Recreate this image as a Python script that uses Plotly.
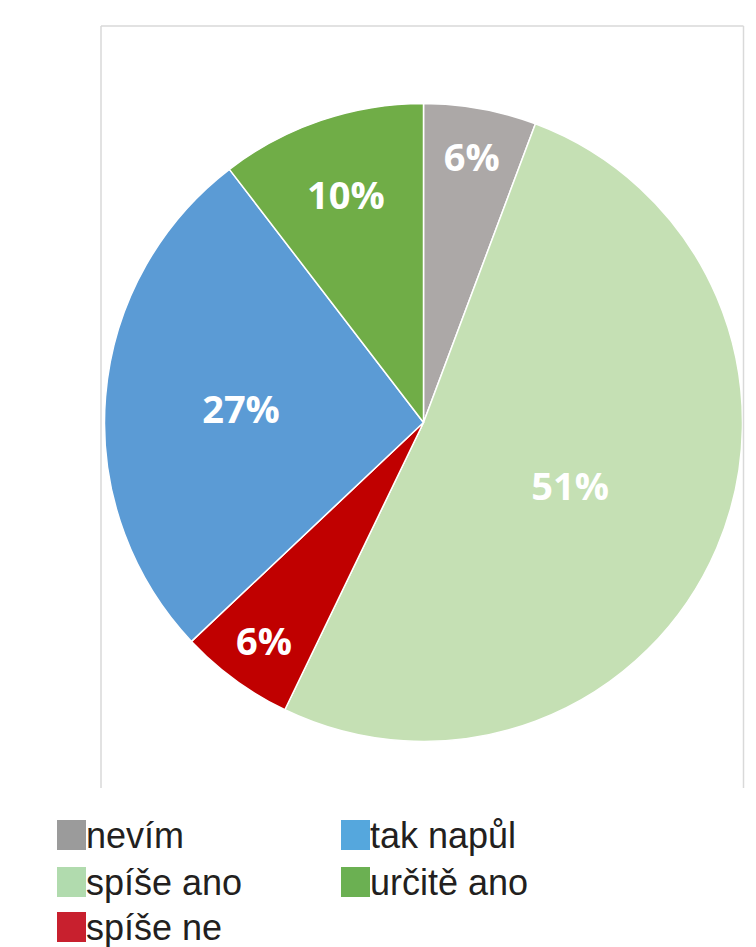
import plotly.graph_objects as go

W, H = 756, 947

# Data
categories = ["nevím", "spíše ano", "spíše ne", "tak napůl", "určitě ano"]
values = [5.7, 51.4, 5.8, 26.6, 10.4]
slice_colors = ["#aca8a7", "#c5e0b4", "#c00000", "#5b9bd5", "#70ad47"]

# Legend (row-major order as in the reference)
legend_labels = ["nevím", "tak napůl", "spíše ano", "určitě ano", "spíše ne"]
legend_colors = ["#9b9b9b", "#55a7dd", "#b1dbae", "#6bb052", "#c8202e"]


def px(x):
    return x / W


def py(y):
    return 1 - y / H


cx, cy, R = 423.5, 422.5, 319

fig = go.Figure()
fig.add_trace(go.Pie(
    labels=categories,
    values=values,
    sort=False,
    direction="clockwise",
    rotation=0,
    marker=dict(colors=slice_colors, line=dict(color="white", width=1.5)),
    texttemplate="%{percent:.0%}",
    textposition="inside",
    insidetextorientation="horizontal",
    textfont=dict(family="Open Sans", size=38, color="white", weight="bold"),
    hoverinfo="label+percent",
    showlegend=False,
    domain=dict(x=[px(cx - R), px(cx + R)], y=[py(cy + R), py(cy - R)]),
))

shapes = []
# plot-area border (top, left, right)
bc = "#d9d9d9"
shapes.append(dict(type="line", xref="paper", yref="paper",
                   x0=px(101), x1=px(743.5), y0=py(26), y1=py(26),
                   line=dict(color=bc, width=1.5)))
shapes.append(dict(type="line", xref="paper", yref="paper",
                   x0=px(101), x1=px(101), y0=py(26), y1=py(788),
                   line=dict(color=bc, width=1.5)))
shapes.append(dict(type="line", xref="paper", yref="paper",
                   x0=px(743.5), x1=px(743.5), y0=py(26), y1=py(788),
                   line=dict(color=bc, width=1.5)))

annotations = []
col_x = [57, 341]
row_y = [835, 882, 927]
sq = 29
for i, (lab, col) in enumerate(zip(legend_labels, legend_colors)):
    r, c = divmod(i, 2)
    x0 = col_x[c]
    yc = row_y[r]
    shapes.append(dict(type="rect", xref="paper", yref="paper",
                       x0=px(x0), x1=px(x0 + sq),
                       y0=py(yc + sq / 2 + 0.5), y1=py(yc - sq / 2 - 0.5),
                       fillcolor=col, line=dict(width=0)))
    annotations.append(dict(xref="paper", yref="paper",
                            x=px(x0 + sq), y=py(yc),
                            xanchor="left", yanchor="middle",
                            text=lab, showarrow=False,
                            font=dict(family="Liberation Sans", size=36, color="#231f20"),
                            xshift=-2))

fig.update_layout(
    width=W, height=H,
    margin=dict(l=0, r=0, t=0, b=0),
    paper_bgcolor="white",
    plot_bgcolor="white",
    shapes=shapes,
    annotations=annotations,
)

fig.write_html("out.html")
